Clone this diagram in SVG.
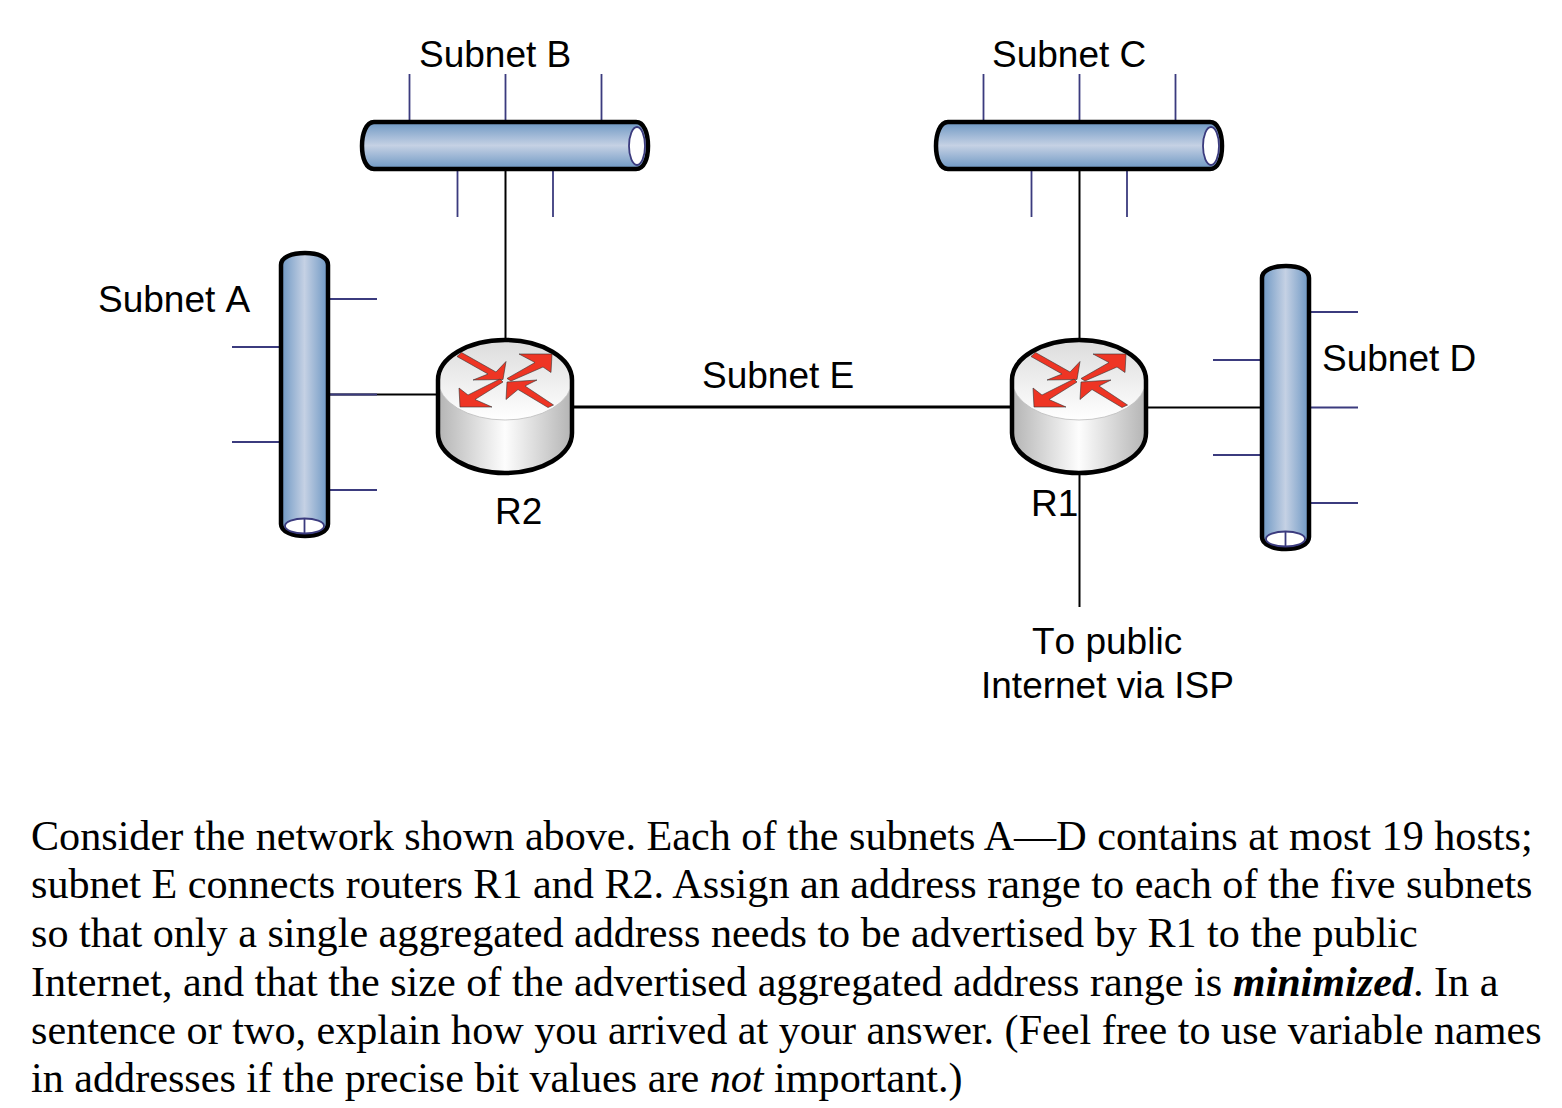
<svg xmlns="http://www.w3.org/2000/svg" xmlns:xlink="http://www.w3.org/1999/xlink" width="1562" height="1108" viewBox="0 0 1562 1108">
<style>
.lbl{font-family:"Liberation Sans",Arial,sans-serif;font-size:37px;fill:#000;font-kerning:none}
.body{font-family:"Liberation Serif","Times New Roman",serif;font-size:42.15px;fill:#000}
.tap{stroke:#3b3b7e;stroke-width:1.8;fill:none}
.wire{stroke:#000;stroke-width:2;fill:none}
.wire2{stroke:#000;stroke-width:2.8;fill:none}
.tube{stroke:#000;stroke-width:4.5}
.hole{fill:#fff;stroke:#3b3b7e;stroke-width:1.8}
.arrow{fill:#ee3524;stroke:#333;stroke-width:.6}
.rim{stroke:#000;stroke-width:4.5}
</style>
<defs>
<linearGradient id="gh" x1="0" y1="0" x2="0" y2="1"><stop offset="0" stop-color="#6d97c3"/><stop offset=".5" stop-color="#c5d1e4"/><stop offset="1" stop-color="#6d97c3"/></linearGradient>
<linearGradient id="gv" x1="0" y1="0" x2="1" y2="0"><stop offset="0" stop-color="#6d97c3"/><stop offset=".5" stop-color="#c5d1e4"/><stop offset="1" stop-color="#6d97c3"/></linearGradient>
<linearGradient id="gside" x1="0" y1="0" x2="1" y2="0"><stop offset="0" stop-color="#b4b4b4"/><stop offset=".5" stop-color="#fdfdfd"/><stop offset="1" stop-color="#b4b4b4"/></linearGradient>
<linearGradient id="gtop" x1="0" y1="0" x2="0" y2="1"><stop offset="0" stop-color="#dcdcdc"/><stop offset="1" stop-color="#fff"/></linearGradient>
<g id="router">
<path fill="url(#gside)" d="M438 380V433C438 455 468 473 505 473S572 455 572 433V380Z"/>
<ellipse fill="url(#gtop)" stroke="#bbb" stroke-width=".8" cx="505" cy="380" rx="67" ry="40"/>
<path class="rim" fill="none" d="M438 433V380C438 358 468 340 505 340S572 358 572 380V433C572 455 542 473 505 473S438 455 438 433Z"/>
<polygon class="arrow" points="461.500,352.500 496,372 506,361.500 503,379.500 473,380 488,374 457,356.500"/>
<polygon class="arrow" points="507,378.500 535,362.500 519,354 552,354 551,372.500 543,367 511,381"/>
<polygon class="arrow" points="503,382 475,399.500 492,407 460,407 459,388 468,395 500,379"/>
<polygon class="arrow" points="553.500,405 548,407.500 518,389.500 506,399.500 507,382 537,380 525,386"/>
</g>
<g id="htube">
<path class="tube" fill="url(#gh)" d="M374 122H636C644 122 648 133 648 146S644 169 636 169H374C366 169 362 158 362 146S366 122 374 122Z"/>
<ellipse class="hole" cx="637" cy="146" rx="8" ry="19"/>
</g>
<g id="vtube">
<path class="tube" fill="url(#gv)" d="M281 265C281 257 292 253 305 253S328 257 328 265V524C328 532 317 536 305 536S281 532 281 524Z"/>
<ellipse class="hole" cx="304.500" cy="526" rx="19.500" ry="7.500"/>
<path class="tap" d="M304.500 518.500V533.500"/>
</g>
</defs>

<g id="connectors">
<path class="wire" d="M505.500 170V340"/>
<path class="wire" d="M1079.500 170V340"/>
<path class="wire" d="M329 394.500H438"/>
<path class="wire2" d="M572 407H1012"/>
<path class="wire" d="M1146 407.500H1261"/>
<path class="wire" d="M1079.500 473V607"/>
</g>

<g id="subnet-b">
<path class="tap" d="M409.500 74V122M505.500 74V122M601.500 74V122M457.500 170V217M553 170V217"/>
<use href="#htube" xlink:href="#htube"/>
<text class="lbl" x="419" y="67">Subnet B</text>
</g>
<g id="subnet-c">
<path class="tap" d="M983.500 74V122M1079.500 74V122M1175.500 74V122M1031.500 170V217M1127 170V217"/>
<use href="#htube" xlink:href="#htube" x="574"/>
<text class="lbl" x="992" y="67">Subnet C</text>
</g>
<g id="subnet-a">
<path class="tap" d="M329 299H377M232 347H281M329 394.500H377M232 442H281M329 490H377"/>
<use href="#vtube" xlink:href="#vtube"/>
<text class="lbl" x="98" y="312">Subnet A</text>
</g>
<g id="subnet-d">
<path class="tap" d="M1310 312H1358M1213 360H1262M1310 407.500H1358M1213 455H1262M1310 503H1358"/>
<use href="#vtube" xlink:href="#vtube" x="981" y="13"/>
<text class="lbl" x="1322" y="371">Subnet D</text>
</g>
<g id="r2">
<use href="#router" xlink:href="#router"/>
<text class="lbl" x="495" y="524">R2</text>
</g>
<g id="r1">
<use href="#router" xlink:href="#router" x="574"/>
<text class="lbl" x="1031" y="516">R1</text>
</g>
<g id="subnet-e"><text class="lbl" x="702" y="388">Subnet E</text></g>
<g id="internet">
<text class="lbl" x="1032" y="654">To public</text>
<text class="lbl" x="981" y="698">Internet via ISP</text>
</g>
<g id="question">
<text class="body" x="31" y="850">Consider the network shown above. Each of the subnets A—D contains at most 19 hosts;</text>
<text class="body" x="31" y="898">subnet E connects routers R1 and R2. Assign an address range to each of the five subnets</text>
<text class="body" x="31" y="947">so that only a single aggregated address needs to be advertised by R1 to the public</text>
<text class="body" x="31" y="996">Internet, and that the size of the advertised aggregated address range is <tspan font-weight="bold" font-style="italic">minimized</tspan>. In a</text>
<text class="body" x="31" y="1044">sentence or two, explain how you arrived at your answer. (Feel free to use variable names</text>
<text class="body" x="31" y="1092">in addresses if the precise bit values are <tspan font-style="italic">not</tspan> important.)</text>
</g>
</svg>
